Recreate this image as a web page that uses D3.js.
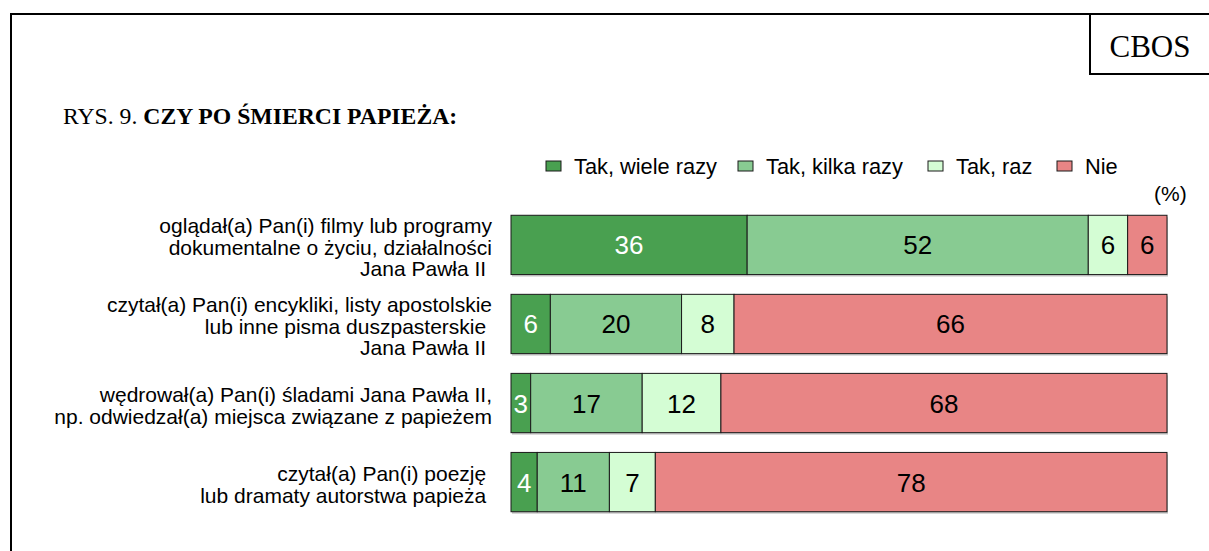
<!DOCTYPE html>
<html><head><meta charset="utf-8">
<script src="https://cdn.jsdelivr.net/npm/d3@7"></script>
<style>html,body{margin:0;padding:0;background:#fff;}svg{display:block;}</style>
</head><body>
<script>
const categories = [
  ["oglądał(a) Pan(i) filmy lub programy", "dokumentalne o życiu, działalności", "Jana Pawła II\u00a0"],
  ["czytał(a) Pan(i) encykliki, listy apostolskie", "lub inne pisma duszpasterskie\u00a0", "Jana Pawła II\u00a0"],
  ["wędrował(a) Pan(i) śladami Jana Pawła II,", "np. odwiedzał(a) miejsca związane z papieżem"],
  ["czytał(a) Pan(i) poezję\u00a0", "lub dramaty autorstwa papieża\u00a0"]
];
const seriesNames = ["Tak, wiele razy", "Tak, kilka razy", "Tak, raz", "Nie"];
const wieleRazy = [36, 6, 3, 4];
const kilkaRazy = [52, 20, 17, 11];
const raz = [6, 8, 12, 7];
const nie = [6, 66, 68, 78];
const colors = ["#49a050", "#88cb92", "#d4fdd4", "#e88585"];
const labelColors = ["#fff", "#000", "#000", "#000"];

const W = 1209, H = 551;
const sans = "Liberation Sans, Arial, sans-serif";
const serif = "Liberation Serif, Times New Roman, serif";
const svg = d3.select("body").append("svg").attr("width", W).attr("height", H);

// frame
svg.append("path").attr("d", `M11,${H+5} L11,14 L${W+5},14`).attr("fill","none").attr("stroke","#000").attr("stroke-width",2);
svg.append("path").attr("d", `M1090,14 L1090,74 L${W+5},74`).attr("fill","none").attr("stroke","#000").attr("stroke-width",2);
svg.append("text").attr("x",1150).attr("y",57).attr("text-anchor","middle")
  .attr("font-family",serif).attr("font-size",31).text("CBOS");

const title = svg.append("text").attr("x",63).attr("y",124)
  .attr("font-family",serif).attr("font-size",23.7);
title.append("tspan").text("RYS. 9. ");
title.append("tspan").attr("font-weight","bold").text("CZY PO ŚMIERCI PAPIEŻA:");

const x = d3.scaleLinear().domain([0,100]).range([511,1167]);
const y = d3.scaleBand().domain(d3.range(categories.length)).range([205,522]).paddingInner(0.25).paddingOuter(0.13);

const series = [wieleRazy, kilkaRazy, raz, nie];
const rows = categories.map((c,i)=>{
  let acc = 0;
  return series.map((s,k)=>{ const v = s[i]; const seg = {i,k,v,x0:acc,x1:acc+v}; acc += v; return seg; });
});

const g = svg.append("g");
rows.forEach(row=>{
  g.append("rect").attr("x", x(0)+1).attr("y", y(row[0].i)+2).attr("width", x(100)-x(0)).attr("height", y.bandwidth())
    .attr("fill","#c8c8c8");
  row.forEach(seg=>{
    g.append("rect").attr("x", x(seg.x0)).attr("y", y(seg.i)).attr("width", x(seg.x1)-x(seg.x0)).attr("height", y.bandwidth())
      .attr("fill", colors[seg.k]).attr("stroke","#1a1a1a").attr("stroke-width",1);
  });
  row.forEach(seg=>{
    g.append("text").attr("x",(x(seg.x0)+x(seg.x1))/2).attr("y", y(seg.i)+y.bandwidth()/2+9.5)
      .attr("text-anchor","middle").attr("font-family",sans).attr("font-size",26)
      .attr("fill", labelColors[seg.k]).text(seg.v);
  });
});

// category labels
categories.forEach((lines,i)=>{
  const cy = y(i)+y.bandwidth()/2;
  const lh = 21.5;
  const t = svg.append("text").attr("text-anchor","end").attr("font-family",sans).attr("font-size",21);
  lines.forEach((l,j)=>{
    t.append("tspan").attr("x",492).attr("y", cy + (j-(lines.length-1)/2)*lh + 10).text(l);
  });
});

// legend
const legX = [546, 738, 928, 1057];
seriesNames.forEach((n,k)=>{
  svg.append("rect").attr("x",legX[k]).attr("y",161).attr("width",15).attr("height",10)
    .attr("fill",colors[k]).attr("stroke","#1a1a1a").attr("stroke-width",1);
  svg.append("text").attr("x",legX[k]+28).attr("y",174).attr("font-family",sans).attr("font-size",21.8).text(n);
});
svg.append("text").attr("x",1154).attr("y",201).attr("font-family",sans).attr("font-size",21).text("(%)");
</script>
</body></html>
